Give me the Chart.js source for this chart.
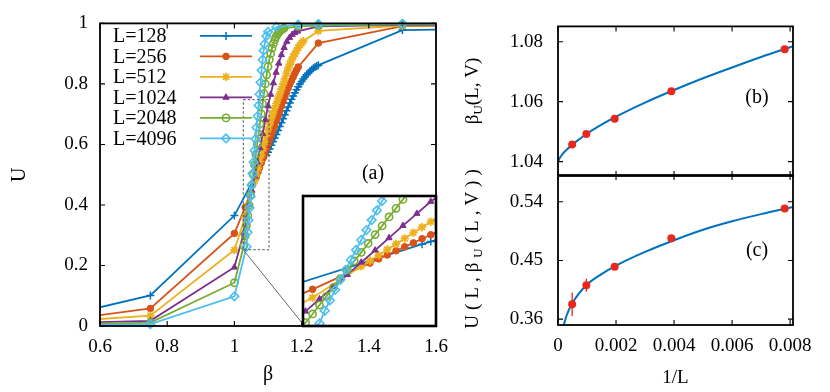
<!DOCTYPE html>
<html><head><meta charset="utf-8">
<script src="https://cdn.jsdelivr.net/npm/chart.js@4.4.1/dist/chart.umd.min.js"></script>
<style>
html,body{margin:0;padding:0;background:#fff;}
#wrap{position:relative;width:830px;height:392px;background:#fff;}
#wrap canvas{position:absolute;left:0;top:0;width:830px;height:392px;}
</style></head><body>
<div id="wrap">
<canvas id="cA" width="830" height="392"></canvas>
<canvas id="cI" width="830" height="392"></canvas>
<canvas id="cB" width="830" height="392"></canvas>
<canvas id="cC" width="830" height="392"></canvas>
</div>
<script>
// ---------------- DATA ----------------
const seriesNames = ['L=128','L=256','L=512','L=1024','L=2048','L=4096'];

const beta128 = [0.5,0.75,1.0,1.095,1.100,1.105,1.110,1.115,1.120,1.125,1.130,1.135,1.140,1.145,1.150,1.155,1.160,1.165,1.170,1.175,1.180,1.185,1.190,1.195,1.200,1.205,1.210,1.215,1.220,1.225,1.230,1.235,1.240,1.245,1.250,1.5,2.0];
const u128    = [0.036,0.101,0.365,0.564,0.574,0.585,0.597,0.609,0.621,0.633,0.646,0.659,0.672,0.685,0.698,0.711,0.724,0.737,0.749,0.760,0.771,0.781,0.791,0.800,0.808,0.816,0.823,0.830,0.836,0.842,0.847,0.852,0.856,0.859,0.862,0.978,0.985];

const beta256 = [0.5,0.75,1.0,1.032,1.065,1.070,1.075,1.080,1.085,1.090,1.095,1.100,1.105,1.110,1.115,1.120,1.125,1.130,1.135,1.140,1.145,1.150,1.155,1.160,1.165,1.170,1.175,1.180,1.185,1.190,1.25,1.5,2.0];
const u256    = [0.021,0.058,0.306,0.392,0.492,0.508,0.523,0.539,0.554,0.569,0.585,0.600,0.615,0.631,0.646,0.662,0.678,0.694,0.710,0.726,0.742,0.757,0.772,0.786,0.799,0.811,0.823,0.835,0.846,0.856,0.935,0.991,0.995];

const beta512 = [0.5,0.75,1.0,1.032,1.060,1.065,1.070,1.075,1.080,1.085,1.090,1.095,1.100,1.105,1.110,1.115,1.120,1.125,1.130,1.135,1.140,1.145,1.150,1.155,1.160,1.165,1.170,1.175,1.180,1.185,1.190,1.195,1.200,1.205,1.25,1.5,2.0];
const u512    = [0.016,0.034,0.251,0.360,0.480,0.501,0.522,0.544,0.565,0.586,0.608,0.629,0.650,0.668,0.686,0.703,0.720,0.736,0.752,0.767,0.783,0.800,0.817,0.835,0.851,0.865,0.878,0.890,0.900,0.910,0.920,0.928,0.935,0.941,0.975,0.993,0.996];

const beta1024 = [0.5,0.75,1.0,1.028,1.036,1.044,1.052,1.060,1.068,1.076,1.084,1.092,1.100,1.108,1.116,1.124,1.132,1.140,1.148,1.156,1.164,1.172,1.180,1.188,1.25,1.5,2.0];
const u1024    = [0.010,0.017,0.194,0.308,0.355,0.401,0.448,0.495,0.541,0.588,0.635,0.681,0.727,0.765,0.803,0.838,0.868,0.896,0.920,0.940,0.953,0.963,0.969,0.974,0.990,0.995,0.997];

const beta2048 = [0.5,0.75,1.0,1.028,1.032,1.036,1.040,1.044,1.048,1.052,1.056,1.060,1.064,1.068,1.072,1.076,1.080,1.084,1.088,1.092,1.096,1.100,1.104,1.108,1.112,1.116,1.120,1.124,1.128,1.132,1.136,1.140,1.144,1.148,1.19,1.25,1.5,2.0];
const u2048    = [0.005,0.011,0.143,0.265,0.298,0.332,0.365,0.399,0.433,0.466,0.500,0.533,0.567,0.601,0.634,0.668,0.701,0.735,0.768,0.800,0.830,0.857,0.880,0.900,0.918,0.933,0.946,0.956,0.964,0.970,0.975,0.979,0.982,0.984,0.990,0.993,0.997,0.998];

const beta4096 = [0.5,0.75,1.0,1.036,1.039,1.042,1.045,1.048,1.051,1.054,1.057,1.060,1.063,1.066,1.069,1.072,1.075,1.078,1.081,1.084,1.087,1.090,1.095,1.100,1.125,1.19,1.25,1.5,2.0];
const u4096    = [0.002,0.006,0.098,0.262,0.310,0.350,0.390,0.428,0.466,0.504,0.542,0.580,0.618,0.656,0.693,0.729,0.766,0.805,0.845,0.880,0.910,0.932,0.958,0.972,0.988,0.996,0.998,0.999,1.0];

const xTicksA = [0.6,0.8,1.0,1.2,1.4,1.6];
const xTickLabelsA = ['0.6','0.8','1','1.2','1.4','1.6'];
const yTicksA = [0,0.2,0.4,0.6,0.8,1.0];
const yTickLabelsA = ['0','0.2','0.4','0.6','0.8','1'];

// zoom window shown in the inset (beta range, U range)
const insetBeta = [1.0265, 1.103];
const insetU = [0.252, 0.748];

// right panels
const invL = [0.000488, 0.000977, 0.001953, 0.003906, 0.007813];
const betaU = [1.0457, 1.0492, 1.0543, 1.0635, 1.0775];
const betaUErr = [0.0007, 0.0003, 0.0002, 0.0002, 0.0002];
const uCross = [0.3829, 0.4119, 0.4404, 0.4840, 0.5298];
const uCrossErr = [0.018, 0.010, 0.003, 0.002, 0.002];
const fitInvLB = [0, 0.00003, 0.0001, 0.0003, 0.0006, 0.001, 0.0015, 0.002, 0.003, 0.004, 0.005, 0.006, 0.007, 0.0081];
const fitBetaU = [1.0397, 1.0406, 1.0418, 1.0440, 1.0465, 1.0493, 1.0523, 1.0550, 1.0597, 1.0639, 1.0678, 1.0714, 1.0749, 1.0785];
const fitInvLC = [0.00018, 0.0003, 0.0005, 0.0007, 0.001, 0.0015, 0.002, 0.003, 0.004, 0.005, 0.006, 0.007, 0.0081];
const fitUCross = [0.348, 0.366, 0.385, 0.398, 0.413, 0.429, 0.442, 0.463, 0.481, 0.497, 0.510, 0.521, 0.532];
const xTicksR = [0, 0.002, 0.004, 0.006, 0.008];
const xTickLabelsR = ['0','0.002','0.004','0.006','0.008'];
const yTicksB = [1.04, 1.06, 1.08];
const yTickLabelsB = ['1.04','1.06','1.08'];
const yTicksC = [0.36, 0.45, 0.54];
const yTickLabelsC = ['0.36','0.45','0.54'];

// ---------------- STYLE ----------------
const FONT = "'Liberation Serif','Times New Roman',serif";
Chart.defaults.font.family = FONT;
Chart.defaults.font.size = 19;
Chart.defaults.color = '#000';
Chart.defaults.animation = false;

const seriesBeta = [beta128, beta256, beta512, beta1024, beta2048, beta4096];
const seriesU = [u128, u256, u512, u1024, u2048, u4096];
const seriesStyle = [
  {color:'#0072BD', point:'cross',    radius:4.0, bw:1.5, filled:false},
  {color:'#D95319', point:'circle',   radius:3.3, bw:1.0, filled:true},
  {color:'#EDB120', point:'star',     radius:4.2, bw:1.8, filled:false},
  {color:'#7E2F8E', point:'triangle', radius:3.6, bw:1.0, filled:true},
  {color:'#77AC30', point:'circle',   radius:3.6, bw:1.6, filled:false},
  {color:'#4DBEEE', point:'rectRot',  radius:4.3, bw:1.6, filled:false}
];

function makeSets(clip){
  return seriesNames.map((n,i)=>{
    const st = seriesStyle[i];
    return {
      label: n,
      data: seriesBeta[i].map((b,k)=>({x:b, y:seriesU[i][k]})),
      showLine: true,
      borderColor: st.color,
      borderWidth: 1.8,
      backgroundColor: st.color,
      pointStyle: st.point,
      pointRadius: st.radius,
      pointBorderWidth: st.bw,
      pointBorderColor: st.color,
      pointBackgroundColor: st.filled ? st.color : 'rgba(255,255,255,0)',
      tension: 0,
      order: 5 - i,
      clip: clip
    };
  });
}

function fixedTicks(vals){ return (axis)=>{ axis.ticks = vals.map(v=>({value:v})); }; }

const frameTicks = {
  id: 'frameTicks',
  afterDatasetsDraw(chart, args, o){
    const {ctx, chartArea:a} = chart;
    const xs = chart.scales.x, ys = chart.scales.y;
    ctx.save();
    ctx.strokeStyle = '#000';
    if (o.tickLen){
      ctx.lineWidth = 1.1;
      ctx.beginPath();
      xs.ticks.forEach(t=>{ const p = xs.getPixelForValue(t.value);
        ctx.moveTo(p, a.bottom); ctx.lineTo(p, a.bottom - o.tickLen);
        ctx.moveTo(p, a.top); ctx.lineTo(p, a.top + o.tickLen); });
      ys.ticks.forEach(t=>{ const p = ys.getPixelForValue(t.value);
        ctx.moveTo(a.left, p); ctx.lineTo(a.left + o.tickLen, p);
        ctx.moveTo(a.right, p); ctx.lineTo(a.right - o.tickLen, p); });
      ctx.stroke();
    }
    ctx.lineWidth = o.width || 1.8;
    ctx.strokeRect(a.left, a.top, a.right - a.left, a.bottom - a.top);
    ctx.restore();
  }
};

function drawMarker(ctx, st, x, y){
  ctx.save();
  ctx.strokeStyle = st.color;
  ctx.fillStyle = st.filled ? st.color : 'rgba(255,255,255,0)';
  ctx.lineWidth = st.bw;
  if (Chart.helpers && Chart.helpers.drawPoint){
    Chart.helpers.drawPoint(ctx, {pointStyle: st.point, rotation: 0, radius: st.radius, borderWidth: st.bw}, x, y);
  } else {
    ctx.beginPath(); ctx.arc(x, y, st.radius, 0, Math.PI*2); ctx.fill(); ctx.stroke();
  }
  ctx.restore();
}

const mainExtras = {
  id: 'mainExtras',
  afterDraw(chart){
    const {ctx, chartArea:a} = chart;
    const xs = chart.scales.x, ys = chart.scales.y;
    ctx.save();
    // zoom window and connector
    const x0 = xs.getPixelForValue(insetBeta[0]), x1 = xs.getPixelForValue(insetBeta[1]);
    const yTop = ys.getPixelForValue(insetU[1]), yBot = ys.getPixelForValue(insetU[0]);
    ctx.strokeStyle = '#555'; ctx.lineWidth = 1;
    ctx.setLineDash([2.5,2]);
    ctx.strokeRect(x0, yTop, x1 - x0, yBot - yTop);
    ctx.setLineDash([]);
    ctx.strokeStyle = '#666';
    ctx.beginPath(); ctx.moveTo(x0, yBot);
    ctx.lineTo(xs.getPixelForValue(1.205), ys.getPixelForValue(0.005)); ctx.stroke();
    // legend
    const lx = a.left + 13, ly0 = a.top + 12.5, dy = 20.5;
    seriesNames.forEach((n,i)=>{
      const st = seriesStyle[i];
      const y = ly0 + i*dy;
      ctx.fillStyle = '#000'; ctx.font = `20px ${FONT}`;
      ctx.textAlign = 'left'; ctx.textBaseline = 'middle';
      ctx.fillText(n, lx, y + 1);
      ctx.strokeStyle = st.color; ctx.lineWidth = 1.8;
      ctx.beginPath(); ctx.moveTo(a.left + 100, y); ctx.lineTo(a.left + 152, y); ctx.stroke();
      drawMarker(ctx, st, a.left + 126, y);
    });
    // panel label
    ctx.fillStyle = '#000'; ctx.font = `20px ${FONT}`;
    ctx.textAlign = 'center'; ctx.textBaseline = 'middle';
    ctx.fillText('(a)', xs.getPixelForValue(1.4125), ys.getPixelForValue(0.503));
    ctx.restore();
  }
};

// ---------------- MAIN CHART (a) ----------------
const chartA = new Chart(document.getElementById('cA'), {
  type: 'scatter',
  data: { datasets: makeSets({left:0, right:0, top:6, bottom:6}) },
  options: {
    responsive: false, animation: false, devicePixelRatio: 1,
    layout: { padding: {left:0, top:20, right:394, bottom:0} },
    plugins: { legend:{display:false}, tooltip:{enabled:false}, frameTicks:{tickLen:5, width:1.8} },
    scales: {
      x: { type:'linear', min:0.6, max:1.6,
        afterBuildTicks: fixedTicks(xTicksA),
        ticks: { callback:(v,i)=>xTickLabelsA[i], padding:10, maxRotation:0, autoSkip:false },
        grid: { display:false, drawTicks:false }, border: { display:false },
        title: { display:true, text:'β', font:{size:20}, padding:{top:0, bottom:5} },
        afterFit: (s)=>{ s.height = 66; } },
      y: { type:'linear', min:0, max:1,
        afterBuildTicks: fixedTicks(yTicksA),
        ticks: { callback:(v,i)=>yTickLabelsA[i], padding:12, autoSkip:false },
        grid: { display:false, drawTicks:false }, border: { display:false },
        title: { display:true, text:'U', font:{size:20}, padding:{top:8, bottom:0} },
        afterFit: (s)=>{ s.width = 100; } }
    }
  },
  plugins: [frameTicks, mainExtras]
});

// ---------------- INSET ----------------
const xsA = chartA.scales.x, ysA = chartA.scales.y, aA = chartA.chartArea;
const insetLeft = Math.round(xsA.getPixelForValue(1.205));
const insetTop = Math.round(ysA.getPixelForValue(0.43));
const insetBg = {
  id: 'insetBg',
  beforeDatasetsDraw(chart){
    const {ctx, chartArea:a} = chart;
    ctx.save(); ctx.fillStyle = '#fff';
    ctx.fillRect(a.left, a.top, a.right - a.left, a.bottom - a.top);
    ctx.restore();
  }
};
new Chart(document.getElementById('cI'), {
  type: 'scatter',
  data: { datasets: makeSets(0) },
  options: {
    responsive: false, animation: false, devicePixelRatio: 1,
    layout: { padding: {left: insetLeft, top: insetTop, right: 830 - aA.right, bottom: 392 - aA.bottom} },
    plugins: { legend:{display:false}, tooltip:{enabled:false}, frameTicks:{tickLen:0, width:2.6} },
    scales: {
      x: { type:'linear', min:insetBeta[0], max:insetBeta[1], display:false },
      y: { type:'linear', min:insetU[0], max:insetU[1], display:false }
    }
  },
  plugins: [insetBg, frameTicks]
});

// ---------------- RIGHT PANELS ----------------
function drawRotated(ctx, cx, cy, parts, spacing){
  ctx.save();
  ctx.translate(cx, cy);
  ctx.rotate(-Math.PI/2);
  ctx.fillStyle = '#000';
  ctx.textAlign = 'left'; ctx.textBaseline = 'alphabetic';
  const chars = [];
  parts.forEach(([t, sub])=>{ for (const ch of t) chars.push([ch, sub]); });
  const fMain = `19px ${FONT}`, fSub = `13px ${FONT}`;
  const widths = chars.map(([ch, sub])=>{ ctx.font = sub ? fSub : fMain; return ctx.measureText(ch).width; });
  const total = widths.reduce((p,q)=>p+q, 0) + spacing*(chars.length - 1);
  let x = -total/2;
  chars.forEach(([ch, sub], i)=>{ ctx.font = sub ? fSub : fMain; ctx.fillText(ch, x, sub ? 10 : 6); x += widths[i] + spacing; });
  ctx.restore();
}

function rightPanel(canvasId, cfg){
  const extras = {
    id: 'rpExtras',
    afterDraw(chart){
      const {ctx, chartArea:a} = chart;
      const xs = chart.scales.x, ys = chart.scales.y;
      ctx.save();
      ctx.strokeStyle = '#E8281C'; ctx.lineWidth = 1.3;
      ctx.beginPath();
      cfg.px.forEach((xv,i)=>{
        const p = xs.getPixelForValue(xv);
        ctx.moveTo(p, ys.getPixelForValue(cfg.py[i] - cfg.pe[i]));
        ctx.lineTo(p, ys.getPixelForValue(cfg.py[i] + cfg.pe[i]));
      });
      ctx.stroke();
      ctx.fillStyle = '#000'; ctx.font = `20px ${FONT}`;
      ctx.textAlign = 'center'; ctx.textBaseline = 'middle';
      ctx.fillText(cfg.panel, a.right - 36, cfg.panelY);
      ctx.restore();
      drawRotated(ctx, 472, cfg.labelY, cfg.label, cfg.spacing);
    }
  };
  return new Chart(document.getElementById(canvasId), {
    type: 'scatter',
    data: { datasets: [
      { data: cfg.px.map((v,i)=>({x:v, y:cfg.py[i]})), showLine:false, pointRadius:4,
        pointBackgroundColor:'#E8281C', pointBorderColor:'#E8281C', pointBorderWidth:0, order:0, clip:8 },
      { data: cfg.fx.map((v,i)=>({x:v, y:cfg.fy[i]})), showLine:true, pointRadius:0,
        borderColor:'#0072BD', borderWidth:2, cubicInterpolationMode:'monotone', order:1, clip:0 }
    ]},
    options: {
      responsive:false, animation:false, devicePixelRatio:1,
      layout: { padding: {left:0, top:cfg.top, right:37, bottom:0} },
      plugins: { legend:{display:false}, tooltip:{enabled:false}, frameTicks:{tickLen:5, width:1.8} },
      scales: {
        x: { type:'linear', min:0, max:0.0081,
          afterBuildTicks: fixedTicks(xTicksR),
          ticks: { display: cfg.showX, callback:(v,i)=>xTickLabelsR[i], padding:10, maxRotation:0, autoSkip:false },
          grid: { display:false, drawTicks:false }, border:{display:false},
          title: { display: cfg.showX, text:'1/L', font:{size:19}, padding:{top:0, bottom:3} },
          afterFit: (s)=>{ s.height = cfg.xh; } },
        y: { type:'linear', min:cfg.ymin, max:cfg.ymax,
          afterBuildTicks: fixedTicks(cfg.yt),
          ticks: { callback:(v,i)=>cfg.ytl[i], padding:15, autoSkip:false },
          grid: { display:false, drawTicks:false }, border:{display:false},
          afterFit: (s)=>{ s.width = 558; } }
      }
    },
    plugins: [frameTicks, extras]
  });
}

rightPanel('cB', { top:19, xh:216, showX:false, ymin:1.0352, ymax:1.0851,
  yt:yTicksB, ytl:yTickLabelsB, px:invL, py:betaU, pe:betaUErr, fx:fitInvLB, fy:fitBetaU,
  panel:'(b)', panelY:98, labelY:91, spacing:0,
  label:[['β',false],['U',true],['(L, V)',false]] });

rightPanel('cC', { top:175, xh:67, showX:true, ymin:0.351, ymax:0.581,
  yt:yTicksC, ytl:yTickLabelsC, px:invL, py:uCross, pe:uCrossErr, fx:fitInvLC, fy:fitUCross,
  panel:'(c)', panelY:251, labelY:249, spacing:5,
  label:[['U(L,',false],['β',false],['U',true],['(L,V))',false]] });
</script>
</body></html>
